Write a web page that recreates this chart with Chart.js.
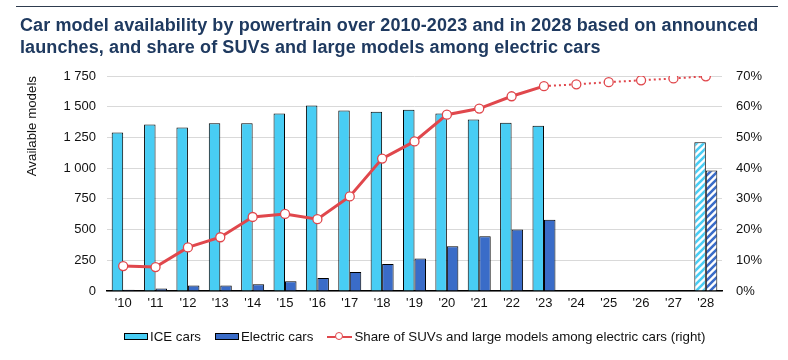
<!DOCTYPE html>
<html><head><meta charset="utf-8">
<script src="https://cdn.jsdelivr.net/npm/chart.js@4.4.1/dist/chart.umd.min.js"></script>
<style>
html,body{margin:0;padding:0;background:#fff;}
#wrap{position:relative;width:788px;height:360px;font-family:"Liberation Sans",Arial,sans-serif;}
#rule{position:absolute;left:16px;top:6px;width:762px;height:0;border-top:1.5px solid #2E3B4E;}
#title{position:absolute;left:20px;top:14px;width:768px;font-weight:bold;font-size:18px;letter-spacing:0.1px;line-height:22px;color:#1F3A60;white-space:nowrap;}
#chartbox{position:absolute;left:0;top:0;width:788px;height:360px;}
#legend{position:absolute;left:124px;top:329px;display:flex;align-items:center;font-size:13.3px;color:#111;white-space:nowrap;}
.li{display:flex;align-items:center;margin-right:14px;}
.box{display:inline-block;width:22px;height:5px;border:1px solid #000;margin-right:2px;}
.lineic{position:relative;display:inline-block;width:25px;height:10px;margin-right:2px;}
.lineic::before{content:"";position:absolute;left:0;right:0;top:4px;height:2px;background:#E0474C;}
.lineic::after{content:"";position:absolute;left:8px;top:0.5px;width:6px;height:6px;border:1.3px solid #E0474C;border-radius:50%;background:#fff;}
</style>
</head><body>
<div id="wrap">
  <div id="chartbox"><canvas id="c" width="788" height="360"></canvas></div>
  <div id="rule"></div>
  <div id="title">Car model availability by powertrain over 2010-2023 and in 2028 based on announced<br>launches, and share of SUVs and large models among electric cars</div>
  <div id="legend">
    <span class="li"><span class="box" style="background:#48CDF4"></span>ICE cars</span>
    <span class="li"><span class="box" style="background:#3A6CC8"></span>Electric cars</span>
    <span class="li"><span class="lineic"></span>Share of SUVs and large models among electric cars (right)</span>
  </div>
</div>
<script>
const categories = ["'10","'11","'12","'13","'14","'15","'16","'17","'18","'19","'20","'21","'22","'23","'24","'25","'26","'27","'28"];
const iceCars = [1290,1355,1330,1365,1365,1445,1510,1470,1460,1475,1445,1395,1370,1345,null,null,null,null,1210];
const electricCars = [10,20,45,45,55,80,105,155,220,265,365,445,500,580,null,null,null,null,980];
const suvShare = [8.1,7.8,14.2,17.5,24.1,25.1,23.4,30.8,43.1,48.7,57.4,59.4,63.4,66.7,67.3,68.0,68.6,69.2,69.9];
const leftTickMax = 1750, leftTickStep = 250;
const rightTickMax = 70, rightTickStep = 10;
const projectedIndex = 18;   // announced launches (hatched)
const lastActualIndex = 13;  // after this the share line is dotted

const ICE = '#48CDF4', EV = '#3A6CC8', RED = '#E0474C';

function hatch(color){
  const s = 7;
  const c = document.createElement('canvas'); c.width = s; c.height = s;
  const x = c.getContext('2d');
  x.fillStyle = '#fff'; x.fillRect(0,0,s,s);
  x.strokeStyle = color; x.lineWidth = 2.6;
  x.beginPath();
  x.moveTo(0,s); x.lineTo(s,0);
  x.moveTo(-s/2,s/2); x.lineTo(s/2,-s/2);
  x.moveTo(s/2,s+s/2); x.lineTo(s+s/2,s/2);
  x.stroke();
  return x.createPattern(c,'repeat');
}
const iceBg = categories.map((_,i)=> i===projectedIndex ? hatch(ICE) : ICE);
const evBg = categories.map((_,i)=> i===projectedIndex ? hatch(EV) : EV);

const fmt = v => String(v).replace(/\B(?=(\d{3})+(?!\d))/g,' ');

new Chart(document.getElementById('c'), {
  data: {
    labels: categories,
    datasets: [
      {type:'bar', label:'ICE cars', data: iceCars, backgroundColor: iceBg, borderColor:'#000', borderWidth:1, yAxisID:'y', order:2,
       barPercentage:1, categoryPercentage:0.71},
      {type:'bar', label:'Electric cars', data: electricCars, backgroundColor: evBg, borderColor:'#000', borderWidth:1, yAxisID:'y', order:2,
       barPercentage:1, categoryPercentage:0.71},
      {type:'line', label:'Share of SUVs and large models among electric cars (right)', data: suvShare, yAxisID:'y1', order:1,
       borderColor: RED, borderWidth:3, pointRadius:4.5, pointBorderWidth:1.3, pointBackgroundColor:'#fff', pointBorderColor: RED,
       tension:0,
       segment:{
         borderDash: ctx => ctx.p0DataIndex >= lastActualIndex ? [2,3] : undefined,
         borderWidth: ctx => ctx.p0DataIndex >= lastActualIndex ? 2 : 3
       }}
    ]
  },
  options: {
    responsive:false, animation:false,
    layout:{padding:{top:76,left:0,right:0,bottom:0}},
    plugins:{legend:{display:false}, tooltip:{enabled:false}, title:{display:false}},
    scales:{
      x:{
        grid:{display:false, drawTicks:false},
        border:{display:true,color:'#000',width:1.5},
        ticks:{color:'#111',font:{family:'Liberation Sans',size:13},padding:5,maxRotation:0,autoSkip:false},
        afterFit: s => { s.height = 69; }
      },
      y:{
        position:'left', min:0, max:leftTickMax,
        grid:{color:'#D9D9D9',lineWidth:1,drawTicks:false},
        border:{display:false},
        ticks:{stepSize:leftTickStep,color:'#111',font:{family:'Liberation Sans',size:13},padding:11,callback:v=>fmt(v)},
        title:{display:true,text:'Available models',align:'end',color:'#111',font:{family:'Liberation Sans',size:13.3},padding:{top:24,bottom:0}},
        afterFit: s => { s.width = 107; }
      },
      y1:{
        position:'right', min:0, max:rightTickMax,
        grid:{display:false,drawTicks:false},
        border:{display:false},
        ticks:{stepSize:rightTickStep,color:'#111',font:{family:'Liberation Sans',size:13},padding:14,callback:v=>v+'%'},
        afterFit: s => { s.width = 66; }
      }
    }
  }
});
</script>
</body></html>
